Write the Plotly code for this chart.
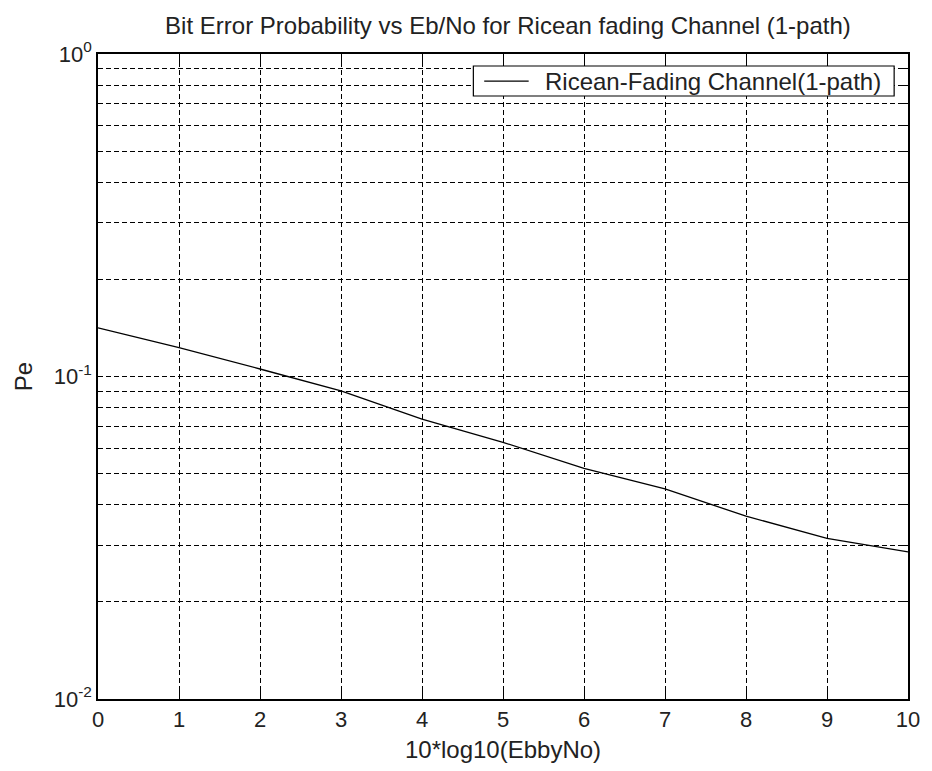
import plotly.graph_objects as go

# Eb/No in dB and the simulated bit error probability
ebno_db = [0, 1, 2, 3, 4, 5, 6, 7, 8, 9, 10]
pe = [0.1415, 0.1228, 0.1055, 0.0902, 0.0738, 0.0625, 0.0519, 0.0448, 0.0369, 0.0315, 0.0286]
series_name = "Ricean-Fading Channel(1-path)"

# log-axis ticks: every mantissa 1..9 carries a dashed grid line, decades get labels
y_tick_vals = [m * 10.0 ** e for e in (-2, -1) for m in range(1, 10)] + [1.0]
y_tick_text = ["10<sup>%d</sup>" % e if m == 1 else "" for e in (-2, -1) for m in range(1, 10)] + ["10<sup>0</sup>"]
x_tick_vals = list(range(0, 11))

FONT = "Liberation Sans"
INK = "#222222"

fig = go.Figure()
fig.add_trace(go.Scatter(
    x=ebno_db, y=pe, mode="lines",
    line=dict(color="black", width=1.3),
    name=series_name, showlegend=False,
))

# compact boxed legend in the upper right of the axes
fig.add_shape(type="rect", xref="paper", yref="paper",
              x0=0.4634, x1=0.9829, y0=0.9349, y1=0.9814,
              line=dict(color="black", width=1.2), fillcolor="white", layer="above")
fig.add_shape(type="line", xref="paper", yref="paper",
              x0=0.4768, x1=0.5317, y0=0.9581, y1=0.9581,
              line=dict(color="black", width=1.3), layer="above")
fig.add_annotation(xref="paper", yref="paper", x=0.549, y=0.9581,
                   xanchor="left", yanchor="middle", showarrow=False,
                   text=series_name, font=dict(family=FONT, size=24, color=INK))

fig.update_layout(
    width=932, height=771,
    margin=dict(l=98, r=14, t=54, b=72),
    paper_bgcolor="white", plot_bgcolor="white",
    font=dict(family=FONT, size=22, color=INK),
    title=dict(
        text="Bit Error Probability vs Eb/No for Ricean fading Channel (1-path)",
        x=0.545, xanchor="center", y=0.967, yanchor="middle",
        font=dict(family=FONT, size=24, color=INK),
    ),
    showlegend=False,
)

fig.update_xaxes(
    range=[0, 10], tickvals=x_tick_vals,
    showline=True, linecolor="black", linewidth=1.5, mirror="ticks",
    ticks="inside", ticklen=8, tickcolor="black",
    showgrid=True, gridcolor="black", griddash="5px,3px", gridwidth=1,
    zeroline=False,
    tickfont=dict(family=FONT, size=22, color=INK),
    title=dict(text="10*log10(EbbyNo)", standoff=10, font=dict(family=FONT, size=24, color=INK)),
)
fig.update_yaxes(
    type="log", range=[-2, 0],
    tickvals=y_tick_vals, ticktext=y_tick_text,
    showline=True, linecolor="black", linewidth=1.5, mirror="ticks",
    ticks="inside", ticklen=5, tickcolor="black",
    showgrid=True, gridcolor="black", griddash="5px,3px", gridwidth=1,
    zeroline=False,
    tickfont=dict(family=FONT, size=22, color=INK),
    title=dict(text="Pe", standoff=14, font=dict(family=FONT, size=24, color=INK)),
)

fig.write_html("out.html")
